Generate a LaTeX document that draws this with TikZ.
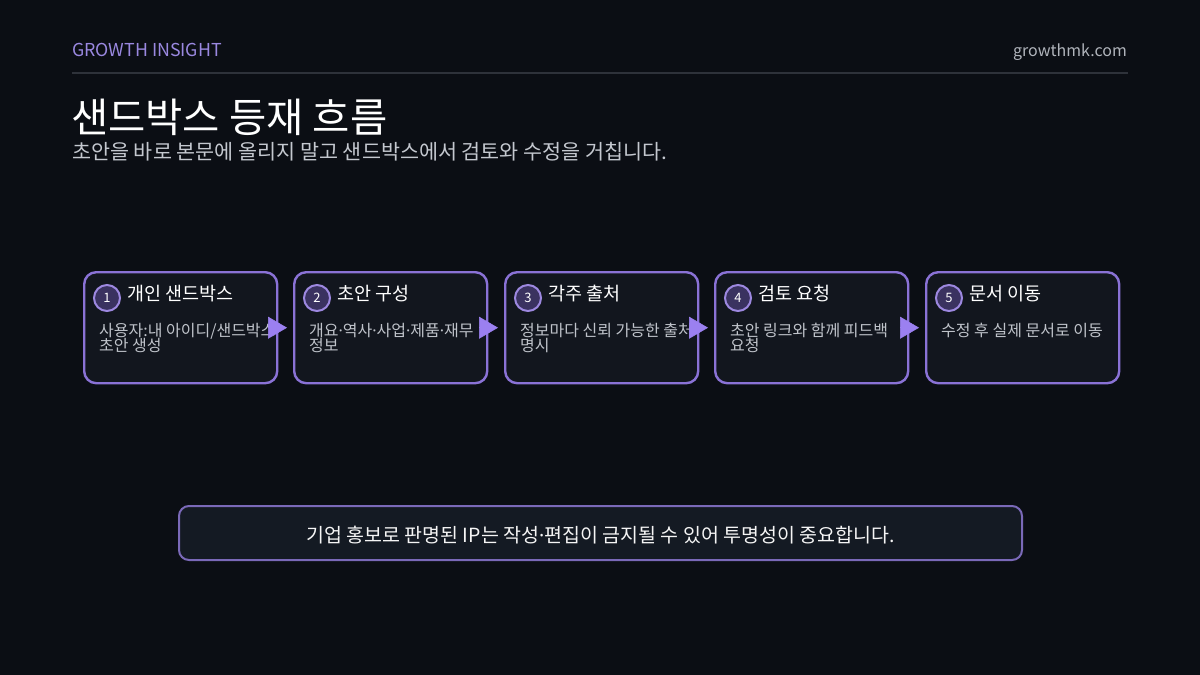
\documentclass[tikz,border=0pt]{standalone}
\usepackage{fontspec}
\setmainfont{Noto Sans CJK KR}
\newfontfamily\latinfont{Noto Sans}
\newcommand{\mdot}{{\latinfont ·}}
\usetikzlibrary{arrows.meta}
\definecolor{bg}{HTML}{0B0E14}
\definecolor{boxfill}{HTML}{12161E}
\definecolor{noteFill}{HTML}{141A23}
\definecolor{boxline}{HTML}{8A72D6}
\definecolor{noteline}{HTML}{7A69B8}
\definecolor{accent}{HTML}{9B80F0}
\definecolor{brand}{HTML}{9A88E0}
\definecolor{muted}{HTML}{B0B4BB}
\definecolor{sub}{HTML}{C4C8CF}
\definecolor{desc}{HTML}{BFC3CA}
\definecolor{rule}{HTML}{2E323A}
\definecolor{numfill}{HTML}{3A3260}
\definecolor{numline}{HTML}{9D88E0}
\tikzset{
  stepbox/.style={draw=boxline, line width=2.4pt, fill=boxfill, rounded corners=12pt,
    minimum width=193pt, minimum height=111pt, inner sep=0pt, anchor=north west},
  numcirc/.style={circle, draw=numline, line width=2pt, fill=numfill, minimum size=26pt,
    inner sep=0pt, text=white, font=\fontsize{13}{13}\selectfont},
  steptitle/.style={anchor=base west, inner sep=0pt, text=white, font=\fontsize{18.5}{20}\selectfont},
  stepdesc/.style={anchor=base west, inner sep=0pt, text=desc, font=\fontsize{16}{16}\selectfont},
  flow/.style={draw=accent, line width=0.5pt, -{Triangle[length=19pt,width=22pt]}, accent, shorten <=-8pt, shorten >=6pt},
}
\begin{document}
\begin{tikzpicture}[x=1pt,y=-1pt]
\fill[bg] (0,0) rectangle (1200,675);
\useasboundingbox (0,0) rectangle (1200,675);
% header
\node[anchor=base west, inner sep=0pt, text=brand, font=\fontsize{17.8}{18}\selectfont] (brand) at (72,56) {GROWTH INSIGHT};
\node[anchor=base east, inner sep=0pt, text=muted, font=\fontsize{16}{18}\selectfont] (site) at (1127,56) {growthmk.com};
\coordinate (ruleL) at (72,73);
\coordinate (ruleR) at (1128,73);
\draw[rule, line width=2pt] (ruleL) -- (ruleR);
\node[anchor=base west, inner sep=0pt, text=white, font=\fontsize{40.5}{44}\selectfont] (title) at (71,132) {샌드박스 등재 흐름};
\node[anchor=base west, inner sep=0pt, text=sub, font=\fontsize{20.7}{22}\selectfont] (subtitle) at (72,159) {초안을 바로 본문에 올리지 말고 샌드박스에서 검토와 수정을 거칩니다.};
% steps
\foreach \i/\x/\t/\d/\e in {
  1/83/{개인 샌드박스}/{사용자:내 아이디/샌드박스}/{초안 생성},
  2/293/{초안 구성}/{개요\mdot 역사\mdot 사업\mdot 제품\mdot 재무}/{정보},
  3/504/{각주 출처}/{정보마다 신뢰 가능한 출처}/{명시},
  4/714/{검토 요청}/{초안 링크와 함께 피드백}/{요청},
  5/925/{문서 이동}/{수정 후 실제 문서로 이동}/{}}{
  \node[stepbox] (b\i) at (\x,271) {};
  \node[numcirc] (n\i) at ([xshift=24pt,yshift=-27pt]b\i.north west) {\i};
  \node[steptitle] (t\i) at ([xshift=44pt,yshift=-29.5pt]b\i.north west) {\t};
  \node[stepdesc] (d\i) at ([xshift=16pt,yshift=-65.5pt]b\i.north west) {\d};
  \node[stepdesc] (e\i) at ([xshift=16pt,yshift=-80pt]b\i.north west) {\e};
}
\foreach \a/\b in {1/2,2/3,3/4,4/5}{
  \draw[flow] (b\a.east) -- (b\b.west);
}
% note
\node[draw=noteline, line width=2pt, fill=noteFill, rounded corners=10pt, minimum width=843pt,
  minimum height=54pt, inner sep=0pt, anchor=north west] (note) at (178,505) {};
\node[anchor=base, inner sep=0pt, text=white!92!gray, font=\fontsize{19.5}{20}\selectfont] (notetext) at ([yshift=-9pt]note.center) {기업 홍보로 판명된 IP는 작성\mdot 편집이 금지될 수 있어 투명성이 중요합니다.};
\end{tikzpicture}
\end{document}
